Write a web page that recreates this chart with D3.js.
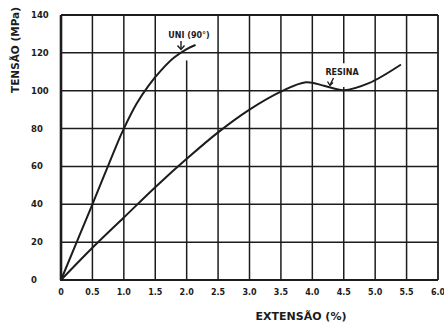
<!DOCTYPE html>
<html>
<head>
<meta charset="utf-8">
<script src="https://cdn.jsdelivr.net/npm/d3@7"></script>
<style>
  html, body { margin: 0; padding: 0; background: #fff; }
  svg { display: block; }
  text { font-family: "DejaVu Sans", sans-serif; font-weight: bold; fill: #1c1c1c; }
</style>
</head>
<body>
<svg id="chart" width="444" height="327"></svg>
<script>
// Strain (%) ticks and stress (MPa) ticks
const xTicks = [0, 0.5, 1.0, 1.5, 2.0, 2.5, 3.0, 3.5, 4.0, 4.5, 5.0, 5.5, 6.0];
const xTickLabels = ["0", "0.5", "1.0", "1.5", "2.0", "2.5", "3.0", "3.5", "4.0", "4.5", "5.0", "5.5", "6.0"];
const yTicks = [0, 20, 40, 60, 80, 100, 120, 140];

// UNI (90°) curve: strain (%) and stress (MPa)
const uniStrain = [0, 0.5, 0.9, 1.0, 1.2, 1.4, 1.6, 1.8, 2.0, 2.13];
const uniStress = [0, 40, 72.5, 80, 93, 103, 111, 117.5, 122, 124];

// RESINA curve: strain (%) and stress (MPa)
const resinaStrain = [0, 0.5, 1.0, 1.5, 2.0, 2.5, 3.0, 3.5, 3.9, 4.2, 4.5, 4.9, 5.4];
const resinaStress = [0, 17, 33, 49, 64, 78, 90, 99.5, 104.5, 102.5, 100.3, 104, 113.6];

// vertical grid lines interrupted around the hand-written labels (stress range hidden)
const gridGaps = [
  { x: 2.0, from: 116, to: 140 },
  { x: 4.5, from: 102, to: 114.5 }
];

const ink = "#1c1c1c";
const svg = d3.select("#chart");

const x = d3.scaleLinear().domain([0, 6]).range([61, 438]);
const y = d3.scaleLinear().domain([0, 140]).range([280, 15]);

// horizontal grid
const grid = svg.append("g").attr("stroke", ink).attr("fill", "none");
grid.selectAll("line.h").data(yTicks).join("line")
  .attr("class", "h")
  .attr("x1", x(0)).attr("x2", x(6))
  .attr("y1", d => y(d)).attr("y2", d => y(d))
  .attr("stroke-width", d => (d === 0 || d === 140) ? 2.2 : 1.5);

// vertical grid, split into segments where a gap is declared
const vSegments = [];
xTicks.forEach(t => {
  const gap = gridGaps.find(g => g.x === t);
  if (gap) {
    vSegments.push({ x: t, a: 0, b: gap.from });
    if (gap.to < 140) vSegments.push({ x: t, a: gap.to, b: 140 });
  } else {
    vSegments.push({ x: t, a: 0, b: 140 });
  }
});
grid.selectAll("line.v").data(vSegments).join("line")
  .attr("class", "v")
  .attr("x1", d => x(d.x)).attr("x2", d => x(d.x))
  .attr("y1", d => y(d.a)).attr("y2", d => y(d.b))
  .attr("stroke-width", d => d.x === 0 ? 2.6 : (d.x === 6 ? 1.8 : 1.5));

// tick labels
svg.append("g").selectAll("text").data(yTicks).join("text")
  .attr("x", 31).attr("y", d => y(d)).attr("dy", "0.36em")
  .attr("font-size", 8.5)
  .text(d => d);

svg.append("g").selectAll("text").data(xTicks).join("text")
  .attr("x", d => x(d)).attr("y", 292).attr("dy", "0.36em")
  .attr("text-anchor", "middle")
  .attr("font-size", 8)
  .text((d, i) => xTickLabels[i]);

// axis titles
svg.append("text")
  .attr("transform", "translate(19,50) rotate(-90)")
  .attr("text-anchor", "middle")
  .attr("font-size", 10.5)
  .text("TENSÃO (MPa)");

svg.append("text")
  .attr("x", 301).attr("y", 320)
  .attr("text-anchor", "middle")
  .attr("font-size", 11)
  .text("EXTENSÃO (%)");

// curves
const line = d3.line()
  .x(d => x(d[0])).y(d => y(d[1]))
  .curve(d3.curveCatmullRom.alpha(0.5));

const uni = uniStrain.map((s, i) => [s, uniStress[i]]);
const resina = resinaStrain.map((s, i) => [s, resinaStress[i]]);

svg.append("g").attr("fill", "none").attr("stroke", ink)
  .attr("stroke-width", 2).attr("stroke-linecap", "round")
  .selectAll("path").data([uni, resina]).join("path")
  .attr("d", line);

// labels with small arrows
svg.append("text").attr("x", 189).attr("y", 38)
  .attr("text-anchor", "middle").attr("font-size", 8)
  .text("UNI (90°)");
svg.append("text").attr("x", 342).attr("y", 75)
  .attr("text-anchor", "middle").attr("font-size", 8)
  .text("RESINA");

const arrows = svg.append("g").attr("stroke", ink).attr("stroke-width", 1.4).attr("fill", "none");
// UNI arrow pointing to the curve end
arrows.append("line").attr("x1", 181).attr("y1", 41).attr("x2", 181).attr("y2", 49);
arrows.append("path").attr("d", "M177.5,45.5 L181,49.5 L184.5,45.5");
// RESINA arrow pointing to the curve
arrows.append("line").attr("x1", 333.5).attr("y1", 78).attr("x2", 330).attr("y2", 85);
arrows.append("path").attr("d", "M327.5,81.5 L330,85.5 L333,82.5");
</script>
</body>
</html>
